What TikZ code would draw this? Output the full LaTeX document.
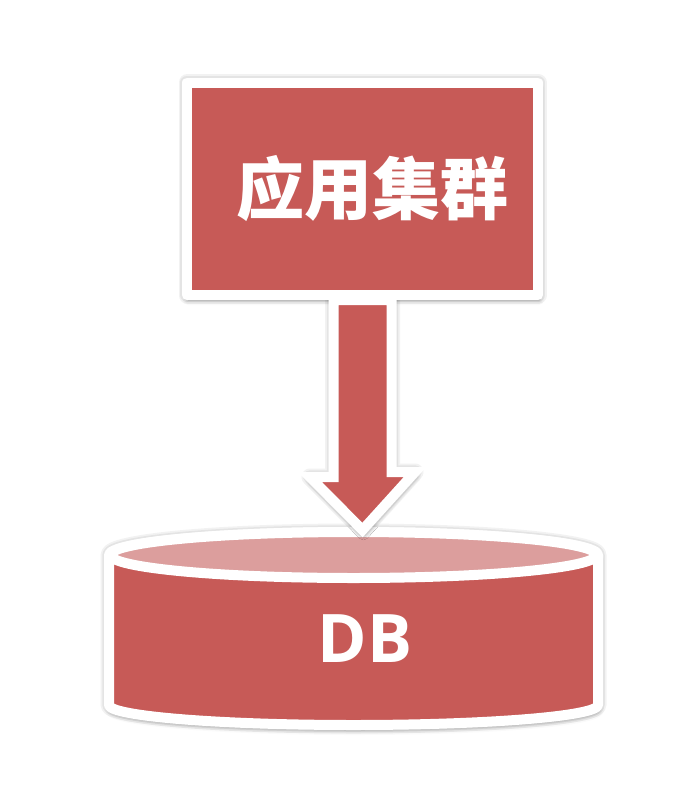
\documentclass[tikz,border=0pt]{standalone}
\usepackage{fontspec}
\newfontfamily\cjk{Noto Sans CJK SC}
\setsansfont{Open Sans}
\usetikzlibrary{shadows.blur}
\definecolor{boxred}{RGB}{199,90,87}
\definecolor{toppink}{RGB}{220,158,157}
\tikzset{
  whiteedge/.style={draw=white, line width=10pt, line join=round},
  halo/.style={
      preaction={draw=black, draw opacity=0.05, line width=17pt, line join=round},
      preaction={draw=black, draw opacity=0.06, line width=13.5pt, line join=round}},
  softshadow/.style={blur shadow={shadow xshift=1pt, shadow yshift=-5pt,
      shadow blur radius=5pt, shadow opacity=30}},
  appbox/.style={whiteedge, fill=boxred, softshadow, halo, minimum width=351pt,
      minimum height=212.5pt, inner sep=0pt, text=white,
      font=\cjk\bfseries\fontsize{68}{68}\selectfont},
  arrowshape/.style={whiteedge, fill=boxred, softshadow, line join=miter},
  dblabel/.style={text=white, inner sep=0pt,
      font=\sffamily\bfseries\fontsize{67}{67}\selectfont},
}
\begin{document}
\begin{tikzpicture}[x=1pt,y=-1pt]
  \useasboundingbox (0,0) rectangle (674,792);
  \node[appbox] (app) at (362.5,188.75) {\hspace*{19pt}应用集群};
  % DB cylinder
  \coordinate (dbtop) at (353.5,530);
  \draw[whiteedge, fill=boxred, softshadow, halo] (109,705) -- (109,555)
    arc[start angle=180, end angle=360, x radius=244.5, y radius=23]
    -- (598,705)
    arc[start angle=0, end angle=180, x radius=244.5, y radius=20] -- cycle;
  \draw[whiteedge, fill=toppink] (353.5,555) ellipse[x radius=243, y radius=23];
  \node[dblabel] (db) at (365,639) {DB};
  % arrow from cluster to DB
  \coordinate (sl) at ([xshift=-29pt]app.south);
  \coordinate (sr) at ([xshift=29pt]app.south);
  \coordinate (tip) at (app.south |- dbtop);
  \draw[halo, draw=none] (sl) -- ++(0,177) -- ++(-23.5,0) -- (tip)
    -- ++(52.5,-58) -- ++(-23.5,0) -- (sr);
  \draw[arrowshape] (sl) -- ++(0,177) -- ++(-23.5,0) -- (tip)
    -- ++(52.5,-58) -- ++(-23.5,0) -- (sr) -- cycle;
\end{tikzpicture}
\end{document}
